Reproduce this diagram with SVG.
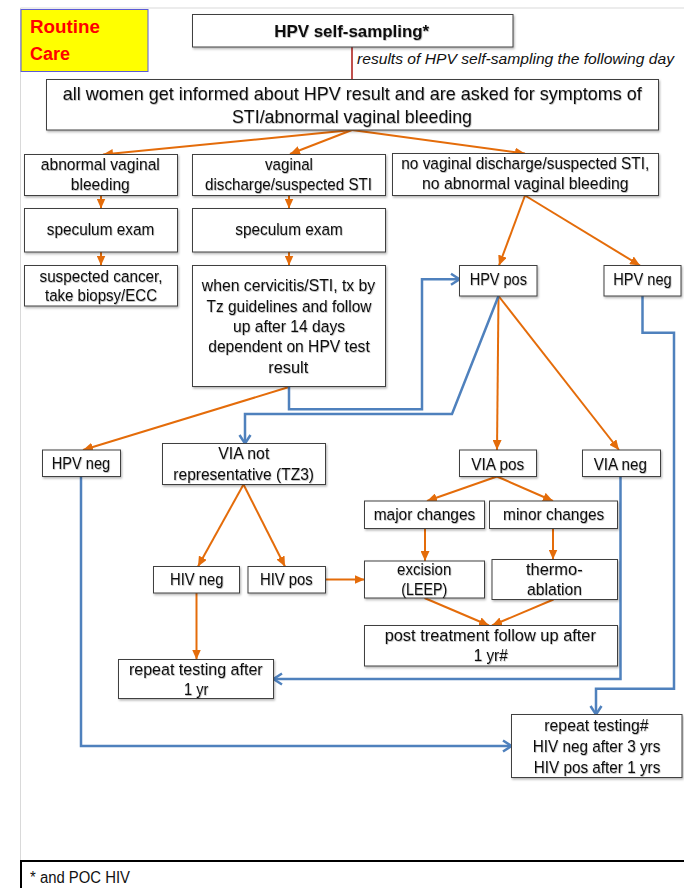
<svg xmlns="http://www.w3.org/2000/svg" width="684" height="888" viewBox="0 0 684 888">
<defs>
<style>
.box{fill:#fff;stroke:#404040;stroke-width:1;filter:url(#sh)}
.t{font-family:"Liberation Sans",Arial,sans-serif;font-size:16.3px;fill:#111;text-anchor:middle;filter:url(#tsh)}
.big{font-size:17.8px}
.or{fill:none;stroke:#E46C0A;stroke-width:2;marker-end:url(#ao)}
.bl{fill:none;stroke:#4F81BD;stroke-width:2.5;stroke-linejoin:miter;marker-end:url(#ab)}
</style>
<filter id="sh" x="-10%" y="-10%" width="130%" height="140%">
<feDropShadow dx="1" dy="1.5" stdDeviation="1" flood-color="#000" flood-opacity="0.3"/>
</filter>
<filter id="tsh" x="-5%" y="-20%" width="115%" height="150%">
<feDropShadow dx="0.6" dy="0.8" stdDeviation="0.6" flood-color="#000" flood-opacity="0.3"/>
</filter>
<marker id="ao" markerUnits="userSpaceOnUse" markerWidth="10" markerHeight="9" viewBox="0 0 10 9" refX="10" refY="4.5" orient="auto">
<path d="M0,0 L10,4.5 L0,9 z" fill="#E46C0A"/>
</marker>
<marker id="ab" markerUnits="userSpaceOnUse" markerWidth="12" markerHeight="14" viewBox="0 0 12 14" refX="10" refY="7" orient="auto">
<path d="M1.5,1.5 L10,7 L1.5,12.5" fill="none" stroke="#4F81BD" stroke-width="2.5"/>
</marker>
</defs>
<rect x="0" y="0" width="684" height="888" fill="#fff"/>
<g id="frame">
<line x1="20.5" y1="8" x2="684" y2="8" stroke="#D9D9D9" stroke-width="1"/>
<line x1="20.5" y1="8" x2="20.5" y2="860" stroke="#D9D9D9" stroke-width="1"/>
</g>

<g id="connectors">
<line x1="352" y1="47" x2="352" y2="79.5" stroke="#C0504D" stroke-width="2"/>
<line class="or" x1="352" y1="130" x2="103" y2="154.5"/>
<line class="or" x1="352" y1="130" x2="290" y2="154"/>
<line class="or" x1="352" y1="130" x2="525" y2="153.5"/>
<line class="or" x1="101" y1="195.5" x2="101" y2="208.5"/>
<line class="or" x1="289" y1="195.5" x2="289" y2="208.5"/>
<line class="or" x1="101" y1="252" x2="101" y2="265.5"/>
<line class="or" x1="289" y1="252" x2="289" y2="265.5"/>
<line class="or" x1="525" y1="195.5" x2="499" y2="265.5"/>
<line class="or" x1="525" y1="195.5" x2="640" y2="265.5"/>
<line class="or" x1="289" y1="387" x2="83" y2="450"/>
<line class="or" x1="498.5" y1="296" x2="497" y2="450"/>
<line class="or" x1="498.5" y1="296" x2="619" y2="450"/>
<line class="or" x1="497" y1="476.5" x2="427" y2="501"/>
<line class="or" x1="497" y1="476.5" x2="553" y2="501"/>
<line class="or" x1="425" y1="528.5" x2="425" y2="561"/>
<line class="or" x1="553" y1="528.5" x2="553" y2="559.5"/>
<line class="or" x1="243.5" y1="484.5" x2="198" y2="566.5"/>
<line class="or" x1="243.5" y1="484.5" x2="285" y2="566.5"/>
<line class="or" x1="325.5" y1="579.5" x2="364.5" y2="579.5"/>
<line class="or" x1="196.5" y1="593" x2="196.5" y2="659.5"/>
<line class="or" x1="424.5" y1="598" x2="489" y2="625.5"/>
<line class="or" x1="553.5" y1="599.5" x2="492" y2="625.5"/>
<polyline class="bl" points="289,387 289,409.3 422,409.3 422,279.3 459.5,279.3"/>
<polyline class="bl" points="498.5,296 452,414 245,414 245,443.5"/>
<polyline class="bl" points="642.5,296 642.5,332.7 674,332.7 674,688.7 596,688.7 596,714.5"/>
<polyline class="bl" points="81,476.5 81,746 511.5,746"/>
<polyline class="bl" points="620.5,476.5 620.5,679 273.5,679"/>
</g>

<g id="routine">
<rect x="21" y="9.5" width="127" height="62" fill="#FFFF00" stroke="#5B5BD6" stroke-width="1"/>
<text x="30" y="32.7" font-family="Liberation Sans,Arial,sans-serif" font-size="18.8" font-weight="bold" fill="#FF0000" textLength="70" lengthAdjust="spacingAndGlyphs">Routine</text>
<text x="30" y="60" font-family="Liberation Sans,Arial,sans-serif" font-size="18.8" font-weight="bold" fill="#FF0000" textLength="40" lengthAdjust="spacingAndGlyphs">Care</text>
</g>

<g id="hpv-self">
<rect class="box" x="192.5" y="14.5" width="320.5" height="32.5"/>
<text class="t" x="351.7" y="36.5" font-weight="bold" font-size="16.3" textLength="155" lengthAdjust="spacingAndGlyphs">HPV self-sampling*</text>
</g>
<g id="results-label">
<text x="357" y="63.5" font-family="Liberation Sans,Arial,sans-serif" font-size="15" font-style="italic" fill="#111" textLength="317" lengthAdjust="spacingAndGlyphs">results of HPV self-sampling the following day</text>
</g>

<g id="all-women">
<rect class="box" x="46.5" y="79.5" width="612" height="50.5"/>
<text class="t big" x="352.3" y="100" textLength="579" lengthAdjust="spacingAndGlyphs">all women get informed about HPV result and are asked for symptoms of</text>
<text class="t big" x="352" y="122.7" textLength="240" lengthAdjust="spacingAndGlyphs">STI/abnormal vaginal bleeding</text>
</g>

<g id="abnormal">
<rect class="box" x="24.5" y="154.5" width="153" height="41"/>
<text class="t" x="100.3" y="170" textLength="119" lengthAdjust="spacingAndGlyphs">abnormal vaginal</text>
<text class="t" x="100.3" y="189.5" textLength="59" lengthAdjust="spacingAndGlyphs">bleeding</text>
</g>
<g id="discharge">
<rect class="box" x="192.5" y="154.5" width="193" height="41"/>
<text class="t" x="289" y="170" textLength="48" lengthAdjust="spacingAndGlyphs">vaginal</text>
<text class="t" x="288.5" y="189.5" textLength="167" lengthAdjust="spacingAndGlyphs">discharge/suspected STI</text>
</g>
<g id="no-discharge">
<rect class="box" x="392.5" y="153.5" width="266" height="42"/>
<text class="t" x="525.3" y="168.7" textLength="248" lengthAdjust="spacingAndGlyphs">no vaginal discharge/suspected STI,</text>
<text class="t" x="525.3" y="189" textLength="206.5" lengthAdjust="spacingAndGlyphs">no abnormal vaginal bleeding</text>
</g>

<g id="speculum1">
<rect class="box" x="24.5" y="208.5" width="153" height="43.5"/>
<text class="t" x="100.5" y="235" textLength="107.5" lengthAdjust="spacingAndGlyphs">speculum exam</text>
</g>
<g id="speculum2">
<rect class="box" x="192.5" y="208.5" width="193" height="43.5"/>
<text class="t" x="289" y="235" textLength="107.5" lengthAdjust="spacingAndGlyphs">speculum exam</text>
</g>

<g id="cancer">
<rect class="box" x="24.5" y="265.5" width="153" height="40.5"/>
<text class="t" x="101" y="281.7" textLength="123" lengthAdjust="spacingAndGlyphs">suspected cancer,</text>
<text class="t" x="101" y="301" textLength="112" lengthAdjust="spacingAndGlyphs">take biopsy/ECC</text>
</g>

<g id="cervicitis">
<rect class="box" x="192.5" y="265.5" width="193" height="121"/>
<text class="t" x="288.5" y="290.8" textLength="173.5" lengthAdjust="spacingAndGlyphs">when cervicitis/STI, tx by</text>
<text class="t" x="289" y="311.5" textLength="165" lengthAdjust="spacingAndGlyphs">Tz guidelines and follow</text>
<text class="t" x="289" y="332" textLength="112" lengthAdjust="spacingAndGlyphs">up after 14 days</text>
<text class="t" x="289" y="352.3" textLength="161.5" lengthAdjust="spacingAndGlyphs">dependent on HPV test</text>
<text class="t" x="288.3" y="372.7" textLength="40" lengthAdjust="spacingAndGlyphs">result</text>
</g>

<g id="hpv-pos">
<rect class="box" x="459.5" y="265.5" width="77.5" height="30.5"/>
<text class="t" x="498.3" y="285" textLength="57.3" lengthAdjust="spacingAndGlyphs">HPV pos</text>
</g>
<g id="hpv-neg-right">
<rect class="box" x="604" y="265.5" width="77" height="30.5"/>
<text class="t" x="642.5" y="285" textLength="58.5" lengthAdjust="spacingAndGlyphs">HPV neg</text>
</g>

<g id="hpv-neg-left">
<rect class="box" x="42.5" y="450" width="78" height="26.5"/>
<text class="t" x="81" y="469.3" textLength="58.3" lengthAdjust="spacingAndGlyphs">HPV neg</text>
</g>
<g id="via-not">
<rect class="box" x="162.5" y="443.5" width="163" height="41"/>
<text class="t" x="243.8" y="459.3" textLength="51" lengthAdjust="spacingAndGlyphs">VIA not</text>
<text class="t" x="243.7" y="480" textLength="140.7" lengthAdjust="spacingAndGlyphs">representative (TZ3)</text>
</g>
<g id="via-pos">
<rect class="box" x="459.5" y="450" width="77" height="26.5"/>
<text class="t" x="497.8" y="470" textLength="53" lengthAdjust="spacingAndGlyphs">VIA pos</text>
</g>
<g id="via-neg">
<rect class="box" x="582.5" y="450" width="78" height="26.5"/>
<text class="t" x="620.3" y="470" textLength="53.3" lengthAdjust="spacingAndGlyphs">VIA neg</text>
</g>

<g id="major">
<rect class="box" x="364.5" y="501" width="120" height="27.5"/>
<text class="t" x="424.5" y="520" textLength="101.7" lengthAdjust="spacingAndGlyphs">major changes</text>
</g>
<g id="minor">
<rect class="box" x="489.5" y="501" width="128" height="27.5"/>
<text class="t" x="553.7" y="520" textLength="101.3" lengthAdjust="spacingAndGlyphs">minor changes</text>
</g>

<g id="hiv-neg">
<rect class="box" x="153.5" y="566.5" width="86" height="26.5"/>
<text class="t" x="196.7" y="585.3" textLength="53.3" lengthAdjust="spacingAndGlyphs">HIV neg</text>
</g>
<g id="hiv-pos">
<rect class="box" x="248" y="566.5" width="77.5" height="26.5"/>
<text class="t" x="286.3" y="585.3" textLength="52.7" lengthAdjust="spacingAndGlyphs">HIV pos</text>
</g>

<g id="excision">
<rect class="box" x="364.5" y="561" width="120" height="37"/>
<text class="t" x="424.2" y="575.3" textLength="54.3" lengthAdjust="spacingAndGlyphs">excision</text>
<text class="t" x="424.2" y="595" textLength="46" lengthAdjust="spacingAndGlyphs">(LEEP)</text>
</g>
<g id="thermo">
<rect class="box" x="492" y="559.5" width="125.5" height="40"/>
<text class="t" x="554.3" y="575.3" textLength="56.7" lengthAdjust="spacingAndGlyphs">thermo-</text>
<text class="t" x="554.5" y="595" textLength="55" lengthAdjust="spacingAndGlyphs">ablation</text>
</g>

<g id="post-treatment">
<rect class="box" x="364.5" y="625.5" width="253" height="40.5"/>
<text class="t" x="490.3" y="641.3" textLength="211.3" lengthAdjust="spacingAndGlyphs">post treatment follow up after</text>
<text class="t" x="490.7" y="661.3" textLength="34" lengthAdjust="spacingAndGlyphs">1 yr#</text>
</g>

<g id="repeat-1yr">
<rect class="box" x="118.5" y="659.5" width="155" height="39"/>
<text class="t" x="195.8" y="674.7" textLength="133.7" lengthAdjust="spacingAndGlyphs">repeat testing after</text>
<text class="t" x="196.2" y="694.7" textLength="24.3" lengthAdjust="spacingAndGlyphs">1 yr</text>
</g>

<g id="repeat-hash">
<rect class="box" x="511.5" y="714.5" width="170.5" height="63"/>
<text class="t" x="596.5" y="731.3" textLength="104.3" lengthAdjust="spacingAndGlyphs">repeat testing#</text>
<text class="t" x="596.5" y="752" textLength="127.7" lengthAdjust="spacingAndGlyphs">HIV neg after 3 yrs</text>
<text class="t" x="597" y="772.7" textLength="126.7" lengthAdjust="spacingAndGlyphs">HIV pos after 1 yrs</text>
</g>

<g id="footnote">
<rect x="21" y="861" width="680" height="40" fill="#fff" stroke="#000" stroke-width="2"/>
<text x="30" y="882.5" font-family="Liberation Sans,Arial,sans-serif" font-size="16" fill="#111" textLength="100" lengthAdjust="spacingAndGlyphs">* and POC HIV</text>
</g>
</svg>
